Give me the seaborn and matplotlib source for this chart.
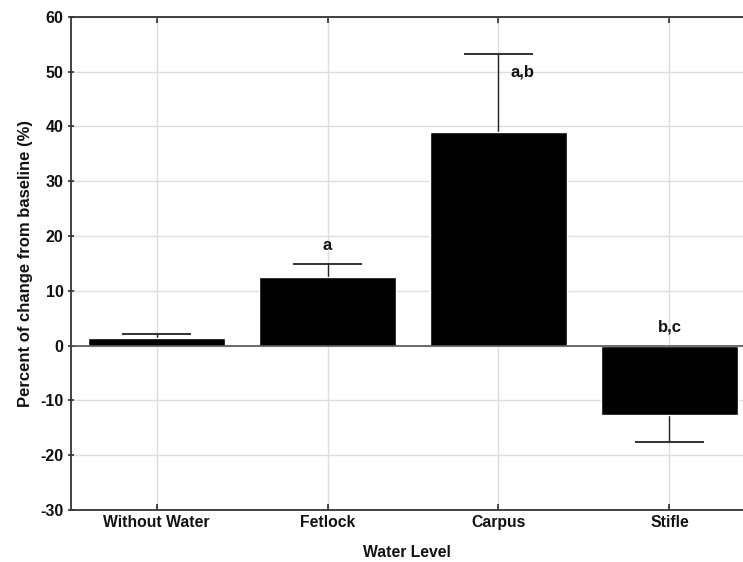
import matplotlib
matplotlib.use("Agg")
import matplotlib.pyplot as plt
import seaborn as sns
import pandas as pd
import numpy as np

categories = ["Without Water", "Fetlock", "Carpus", "Stifle"]
means = [1.4, 12.5, 39.0, -12.7]
err = [0.7, 2.4, 14.3, 4.9]
letters = ["", "a", "a,b", "b,c"]

sns.set_theme(style="whitegrid")
plt.rcParams['font.family'] = ['Liberation Sans', 'DejaVu Sans']
plt.rcParams['font.weight'] = 'bold'
plt.rcParams['axes.unicode_minus'] = False

fig = plt.figure(figsize=(7.43, 5.62), dpi=100)
ax = fig.add_axes([0.0956, 0.0925, 0.9044, 0.8775])

df = pd.DataFrame({"cat": categories, "val": means})
sns.barplot(data=df, x="cat", y="val", color="black", width=0.8, ax=ax,
            errorbar=None, saturation=1, zorder=3)

# one-sided error bars (away from zero)
pos = np.arange(len(categories))
tips = [m + e if m >= 0 else m - e for m, e in zip(means, err)]
ax.vlines(pos, means, tips, color="#222222", lw=1.0, zorder=2)
ax.hlines(tips, pos - 0.2, pos + 0.2, color="#222222", lw=1.3, zorder=2)

ax.axhline(0, color="#555555", lw=1.2, zorder=4)

# significance letters
ax.text(1, 18.2, letters[1], ha="center", va="center", fontsize=12, fontweight="bold", color="#111111")
ax.text(2.14, 49.9, letters[2], ha="center", va="center", fontsize=12, fontweight="bold", color="#111111")
ax.text(3, 3.4, letters[3], ha="center", va="center", fontsize=12, fontweight="bold", color="#111111")

ax.set_xlim(-0.5, 3.43)
ax.set_ylim(-30, 60)
ax.set_yticks(range(-30, 61, 10))
ax.set_xlabel("Water Level", fontsize=11.3, fontweight="bold", labelpad=11, color="#111111")
ax.set_ylabel("Percent of change from baseline (%)", fontsize=12, fontweight="bold", labelpad=5, color="#111111")
ax.tick_params(axis="y", labelsize=11.5, length=4, color="#333333", direction="inout", left=True)
ax.tick_params(axis="x", labelsize=11.3, length=4, color="#333333", direction="in",
               bottom=True, top=True, labeltop=False)
for lab in ax.get_xticklabels() + ax.get_yticklabels():
    lab.set_fontweight("bold")
    lab.set_color("#111111")
ax.grid(True, color="#dddddd", lw=1.0, zorder=0)
ax.set_axisbelow(True)
for s in ["left", "bottom", "top"]:
    ax.spines[s].set_color("#333333")
    ax.spines[s].set_linewidth(1.3)
ax.spines["right"].set_visible(False)

fig.savefig("out.png", dpi=100)
